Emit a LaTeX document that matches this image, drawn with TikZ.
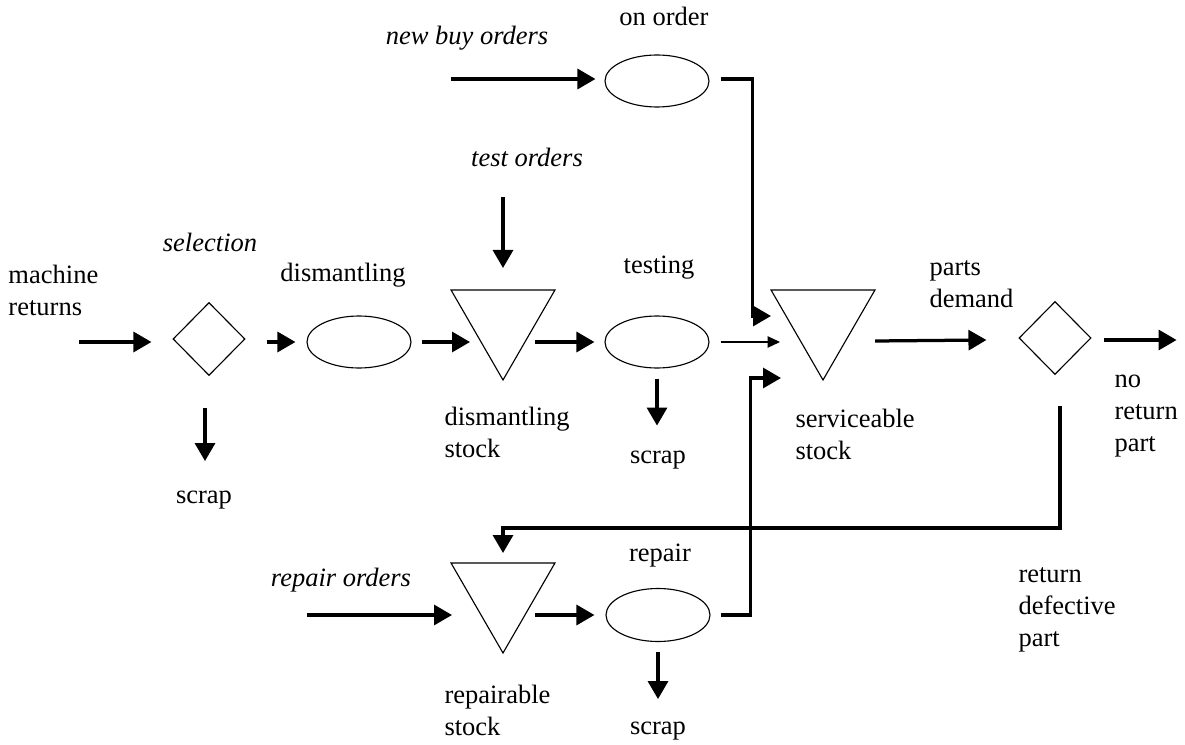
\documentclass[tikz,border=0pt]{standalone}
\usepackage{fontspec}
\setmainfont{Liberation Serif}
\usetikzlibrary{shapes.geometric,arrows.meta,calc}
\begin{document}
\begin{tikzpicture}[x=0.4pt,y=-0.4pt,
  lbl/.style={inner sep=0pt,font=\fontsize{10.6}{12.9}\selectfont},
  ilbl/.style={lbl,font=\fontsize{10.6}{12.9}\selectfont\itshape},
  dia/.style={draw,diamond,line width=0.45pt,inner sep=0pt,minimum width=28.8pt,minimum height=29.2pt},
  ell/.style={draw,ellipse,line width=0.45pt,inner sep=0pt,minimum width=41.6pt,minimum height=20.8pt},
  tri/.style={draw,regular polygon,regular polygon sides=3,shape border rotate=180,line width=0.45pt,inner sep=0pt,minimum size=48pt},
  flow/.style={line width=1.3pt,-{Triangle[length=7.2pt,width=8pt]}},
  thinflow/.style={line width=0.45pt,-{Triangle[length=5pt,width=4.6pt]}}]
\useasboundingbox (0,0) rectangle (1185,745);

% shapes
\node[dia] (sel) at (209,339) {};
\node[ell] (dis) at (359,342) {};
\node[tri] (dst) at (503,320) {};
\node[ell] (tst) at (657,342) {};
\node[ell] (ord) at (657,81) {};
\node[tri] (svc) at (823,320) {};
\node[dia] (dem) at (1055,338) {};
\node[tri] (rps) at (503,593) {};
\node[ell,minimum height=21.2pt] (rep) at (658,615) {};

% labels
\node[lbl,anchor=base west] (lmach) at (8,283) {\begin{tabular}[t]{@{}l@{}}machine\\returns\end{tabular}};
\node[ilbl,anchor=base] (lsel) at (210,252) {selection};
\node[lbl,anchor=base] (ldis) at (343,282) {dismantling};
\node[lbl,anchor=base west] (ldst) at (444,425) {\begin{tabular}[t]{@{}l@{}}dismantling\\stock\end{tabular}};
\node[ilbl,anchor=base] (ltest) at (527,167) {test orders};
\node[ilbl,anchor=base] (lbuy) at (467,45) {new buy orders};
\node[lbl,anchor=base] (lord) at (664,26) {on order};
\node[lbl,anchor=base] (ltst) at (659,273) {testing};
\node[lbl,anchor=base] (lscr1) at (658,463) {scrap};
\node[lbl,anchor=base] (lscr0) at (204,503) {scrap};
\node[lbl,anchor=base west] (lsvc) at (795,427) {\begin{tabular}[t]{@{}l@{}}serviceable\\stock\end{tabular}};
\node[lbl,anchor=base west] (ldem) at (929,275) {\begin{tabular}[t]{@{}l@{}}parts\\demand\end{tabular}};
\node[lbl,anchor=base west] (lnoret) at (1114,387) {\begin{tabular}[t]{@{}l@{}}no\\return\\part\end{tabular}};
\node[lbl,anchor=base west] (lret) at (1018,582) {\begin{tabular}[t]{@{}l@{}}return\\defective\\part\end{tabular}};
\node[ilbl,anchor=base] (lrpo) at (341,586) {repair orders};
\node[lbl,anchor=base] (lrep) at (660,561) {repair};
\node[lbl,anchor=base west] (lrps) at (444,703) {\begin{tabular}[t]{@{}l@{}}repairable\\stock\end{tabular}};
\node[lbl,anchor=base] (lscr2) at (658,734) {scrap};

% connectors
\draw[flow] ($(sel.west)+(-93,3)$) -- ($(sel.west)+(-21,3)$);
\draw[flow] ($(sel.east)+(21,3)$) -- ($(dis.west)+(-11,0)$);
\draw[flow] ($(dis.east)+(10,0)$) -- ($(dst.center)+(-33,22)$);
\draw[flow] ($(dst.center)+(0,-123)$) -- ($(dst.center)+(0,-52)$);
\draw[flow] ($(dst.center)+(32,22)$) -- ($(tst.west)+(-10,0)$);
\draw[thinflow] ($(tst.east)+(11,0)$) -- ($(svc.center)+(-43,22)$);
\draw[flow] ($(tst.south)+(0,10)$) -- ($(tst.south)+(0,57)$);
\draw[flow] ($(sel.south)+(-4,32)$) -- ($(sel.south)+(-4,85)$);
\draw[flow] ($(ord.west)+(-153,-2)$) -- ($(ord.west)+(-9,-2)$);
\draw[flow] ($(ord.east)+(11,-2)$) -- ++(32,0) |- ($(svc.center)+(-52,-4)$);
\draw[flow] ($(rep.east)+(10,0)$) -- ++(30,0) |- ($(svc.center)+(-42,58)$);
\draw[flow] ($(svc.center)+(52,21)$) -- ($(dem.west)+(-32,2)$);
\draw[flow] ($(dem.east)+(12,2)$) -- ($(dem.east)+(85,2)$);
\draw[flow] ($(dem.south)+(5,31)$) -- ++(0,122) -| ($(rps.center)+(0,-40)$);
\draw[flow] ($(rps.center)+(-196,22)$) -- ($(rps.center)+(-51,22)$);
\draw[flow] ($(rps.center)+(32,22)$) -- ($(rep.west)+(-11,0)$);
\draw[flow] ($(rep.south)+(0,10)$) -- ($(rep.south)+(0,57)$);
\end{tikzpicture}
\end{document}
